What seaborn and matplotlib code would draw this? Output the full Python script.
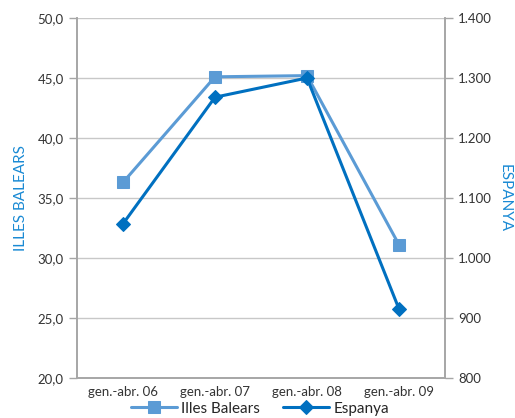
import matplotlib
matplotlib.use("Agg")
import matplotlib.pyplot as plt
import numpy as np
import pandas as pd
import seaborn as sns

periodes = ["gen.-abr. 06", "gen.-abr. 07", "gen.-abr. 08", "gen.-abr. 09"]
illes_balears = [36.3, 45.1, 45.2, 31.1]
espanya = [1057, 1268, 1300, 915]

sns.set_style("white")
plt.rcParams['font.family'] = ['Lato', 'DejaVu Sans']

col_ib = "#5b9bd5"
col_es = "#0070c0"
col_lab = "#1a8ad4"
grey = "#a6a6a6"

df = pd.DataFrame({"x": np.arange(len(periodes)), "ib": illes_balears, "es": espanya})

fig = plt.figure(figsize=(5.15, 4.18), dpi=100)
ax = fig.add_axes([0.1495, 0.0957, 0.7146, 0.8612])
ax2 = ax.twinx()

sns.lineplot(data=df, x="x", y="ib", ax=ax, color=col_ib, marker="s", markersize=8,
             markeredgecolor=col_ib, linewidth=2.2, label="Illes Balears", legend=False)
sns.lineplot(data=df, x="x", y="es", ax=ax2, color=col_es, marker="D", markersize=7,
             markeredgecolor=col_es, linewidth=2.2, label="Espanya", legend=False)

ax.set_xlim(-0.5, 3.5)
ax.set_ylim(20, 50)
ax2.set_ylim(800, 1400)
ax.set_yticks(np.arange(20, 51, 5))
ax.set_yticklabels([f"{v:.1f}".replace(".", ",") for v in np.arange(20, 51, 5)])
ax2.set_yticks(np.arange(800, 1401, 100))
ax2.set_yticklabels([f"{v:,}".replace(",", ".") for v in range(800, 1401, 100)])

ax.set_xticks(np.arange(len(periodes)))
ax.set_xticklabels(periodes)
ax.set_xticks(np.arange(-0.5, 3.6, 1), minor=True)
ax.tick_params(axis="x", which="major", length=0, pad=6, labelsize=9.5, labelcolor="#333333")
ax.tick_params(axis="x", which="minor", length=8, width=1, color=grey, direction="out")
ax.tick_params(axis="y", length=6, width=1, color=grey, direction="out", labelsize=9.5, labelcolor="#333333")
ax2.tick_params(axis="y", length=6, width=1, color=grey, direction="out", labelsize=9.5, labelcolor="#333333")

ax.grid(axis="y", color="#c8c8c8", linewidth=1)
ax.set_axisbelow(True)
for a in (ax, ax2):
    a.spines["top"].set_visible(False)
    for s in ("left", "right", "bottom"):
        a.spines[s].set_color(grey)
        a.spines[s].set_linewidth(1.2)

ax.set_xlabel("")
ax.set_ylabel("ILLES BALEARS", color=col_lab, fontsize=11, va="center")
ax2.set_ylabel("ESPANYA", color=col_lab, fontsize=11, rotation=-90, va="center")
ax.yaxis.set_label_coords(-0.152, 0.5)
ax2.yaxis.set_label_coords(1.163, 0.5)

h1, l1 = ax.get_legend_handles_labels()
h2, l2 = ax2.get_legend_handles_labels()
fig.legend(h1 + h2, l1 + l2, loc="center", bbox_to_anchor=(0.505, 0.022), ncol=2,
           frameon=False, fontsize=11, handlelength=3, columnspacing=1.5, handletextpad=0.3)

fig.savefig("out.png", dpi=100)
